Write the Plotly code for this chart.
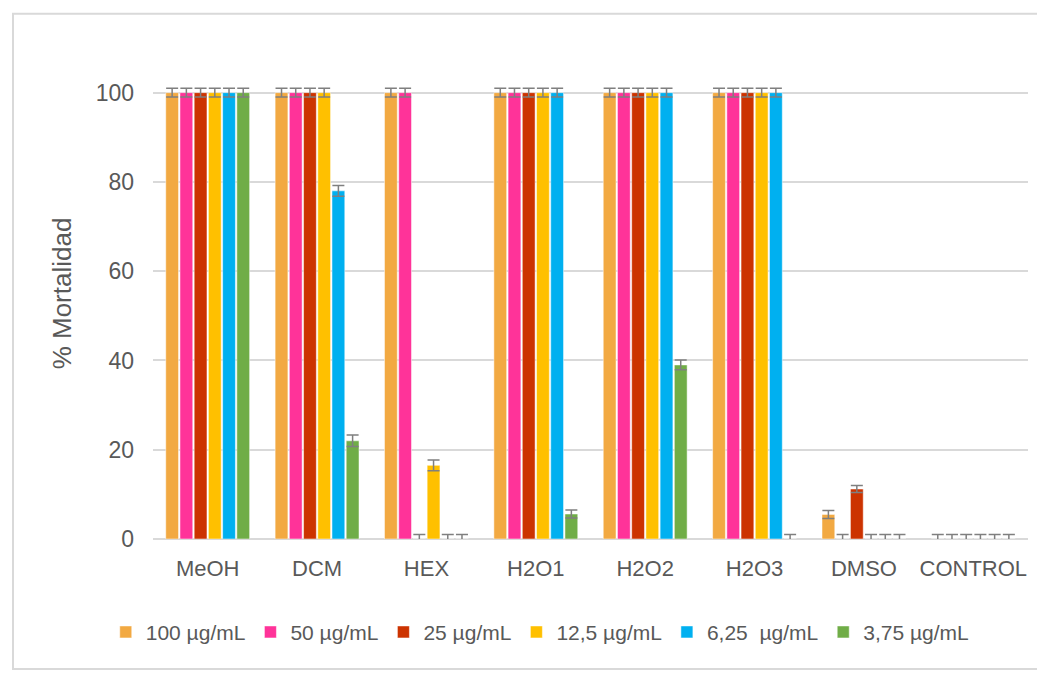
import plotly.graph_objects as go

categories = ["MeOH", "DCM", "HEX", "H2O1", "H2O2", "H2O3", "DMSO", "CONTROL"]
series_names = ["100 µg/mL", "50 µg/mL", "25 µg/mL", "12,5 µg/mL", "6,25  µg/mL", "3,75 µg/mL"]
colors = ["#F2A942", "#FF3399", "#CC3300", "#FFC000", "#00B0F0", "#70AD47"]

v100 = [100, 100, 100, 100, 100, 100, 5.5, 0]
v50 = [100, 100, 100, 100, 100, 100, 0, 0]
v25 = [100, 100, 0, 100, 100, 100, 11.2, 0]
v12 = [100, 100, 16.5, 100, 100, 100, 0, 0]
v6 = [100, 78, 0, 100, 100, 100, 0, 0]
v3 = [100, 22, 0, 5.6, 39, 0, 0, 0]

e100 = [1, 1, 1, 1, 1, 1, 0.9, 1]
e50 = [1, 1, 1, 1, 1, 1, 1, 1]
e25 = [1, 1, 1, 1, 1, 1, 0.8, 1]
e12 = [1, 1, 1.2, 1, 1, 1, 1, 1]
e6 = [1, 1.2, 1, 1, 1, 1, 1, 1]
e3 = [1, 1.3, 1, 0.9, 1.1, 1, 1, 1]

values = [v100, v50, v25, v12, v6, v3]
errors = [e100, e50, e25, e12, e6, e3]

FONT = "Liberation Sans, Arial, sans-serif"
GRAY = "#595959"

fig = go.Figure()
for name, col, v, e in zip(series_names, colors, values, errors):
    fig.add_trace(go.Bar(
        x=categories, y=v, name=name,
        marker=dict(color=col, line=dict(color="white", width=0.5)),
        error_y=dict(type="data", array=e, visible=True, color="#7F7F7F",
                     thickness=1.5, width=6),
    ))

fig.update_layout(
    barmode="group", bargap=0.22, bargroupgap=0.1,
    width=1045, height=673,
    margin=dict(l=145, r=25, t=40, b=142),
    paper_bgcolor="white", plot_bgcolor="white",
    font=dict(family=FONT, color=GRAY, size=22),
    showlegend=True,
    legend=dict(orientation="h", x=0.442, xanchor="center", y=-0.19, yanchor="middle",
                font=dict(family=FONT, size=21, color=GRAY), itemwidth=30,
                bgcolor="rgba(0,0,0,0)", traceorder="normal"),
    xaxis=dict(showgrid=False, showline=False, ticks="", ticklabelstandoff=14,
               tickfont=dict(size=22, color=GRAY)),
    yaxis=dict(range=[0, 110], tickvals=[0, 20, 40, 60, 80, 100], showgrid=True,
               gridcolor="#D9D9D9", gridwidth=1.5, zeroline=True, zerolinecolor="#D9D9D9",
               zerolinewidth=1.5, showline=False, ticks="", ticklabelstandoff=18,
               tickfont=dict(size=23, color=GRAY),
               title=dict(text="% Mortalidad", font=dict(size=26, color=GRAY), standoff=16)),
    shapes=[dict(type="rect", xref="paper", yref="paper", x0=-0.16, x1=1.018,
                 y0=-0.265, y1=1.07, line=dict(color="#D9D9D9", width=2),
                 fillcolor="rgba(0,0,0,0)", layer="below")],
)

fig.write_html("out.html")
